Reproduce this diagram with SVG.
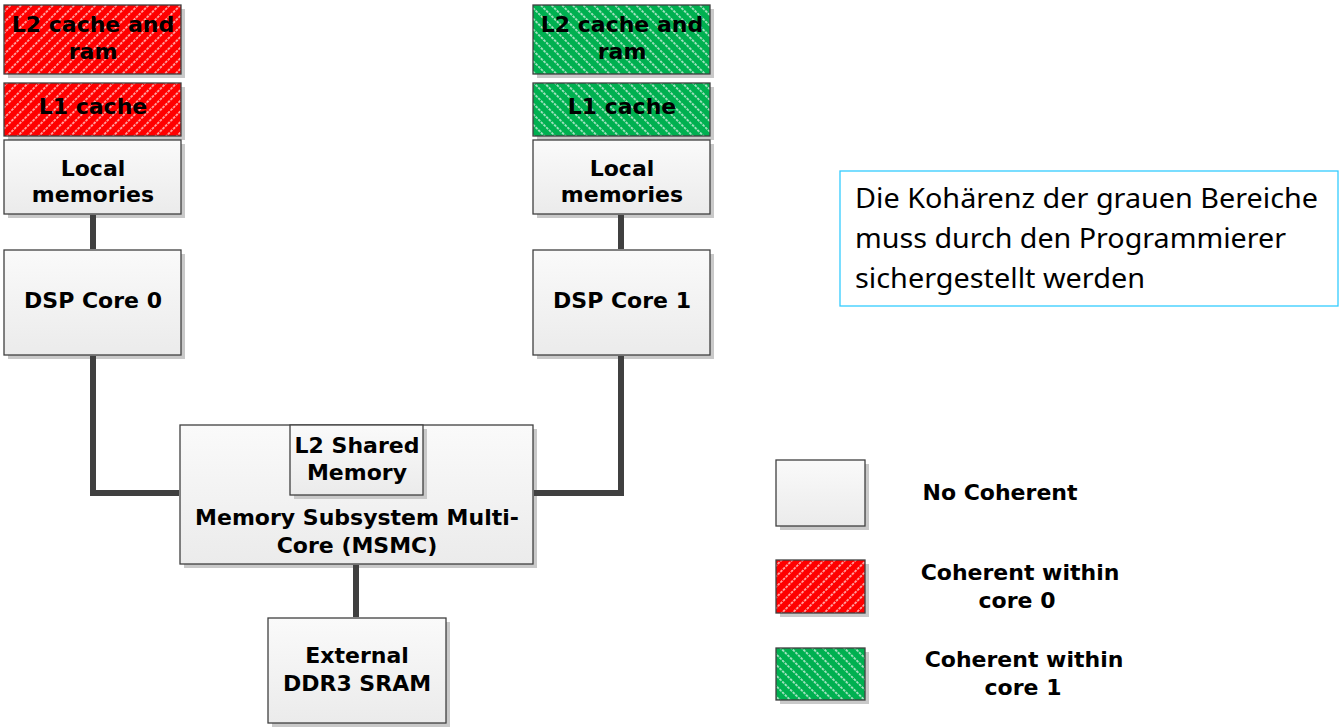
<svg xmlns="http://www.w3.org/2000/svg" width="1340" height="727" viewBox="0 0 1340 727">
<defs>
<linearGradient id="gfill" x1="0" y1="0" x2="0" y2="1">
<stop offset="0" stop-color="#fafafa"/>
<stop offset="1" stop-color="#ebebeb"/>
</linearGradient>
<pattern id="hred" patternUnits="userSpaceOnUse" width="7.5" height="7.5" patternTransform="rotate(45)">
<rect width="7.5" height="7.5" fill="#ff0000"/>
<line x1="3.75" y1="0" x2="3.75" y2="7.5" stroke="#ffffff" stroke-width="1.4" stroke-dasharray="2.5 1.25" opacity="0.85"/>
</pattern>
<pattern id="hgreen" patternUnits="userSpaceOnUse" width="7.5" height="7.5" patternTransform="rotate(-45)">
<rect width="7.5" height="7.5" fill="#00b050"/>
<line x1="3.75" y1="0" x2="3.75" y2="7.5" stroke="#ffffff" stroke-width="1.4" stroke-dasharray="2.5 1.25" opacity="0.85"/>
</pattern>
<style>
.sh{fill:#c9c9c9}
.box{fill:url(#gfill);stroke:#404040;stroke-width:1.3}
.red{fill:url(#hred);stroke:#404040;stroke-width:1.3}
.green{fill:url(#hgreen);stroke:#404040;stroke-width:1.3}
.t{font-family:"DejaVu Sans","Liberation Sans",sans-serif;font-weight:bold;font-size:22px;fill:#000;text-anchor:middle}
.note{font-family:"Noto Sans","Open Sans",sans-serif;font-size:28px;fill:#000}
.wire{fill:none;stroke:#404040;stroke-width:6;stroke-linejoin:miter}
</style>
</defs>
<rect width="1340" height="727" fill="#ffffff"/>

<g id="core0-l2">
<rect class="sh" x="8" y="9" width="177" height="69"/>
<rect class="red" x="4" y="5" width="177" height="69"/>
<text class="t" x="93" y="32">L2 cache and</text>
<text class="t" x="93" y="59">ram</text>
</g>
<g id="core0-l1">
<rect class="sh" x="8" y="87" width="177" height="53"/>
<rect class="red" x="4" y="83" width="177" height="53"/>
<text class="t" x="93" y="114">L1 cache</text>
</g>
<g id="core0-local">
<rect class="sh" x="8" y="144" width="177" height="74"/>
<rect class="box" x="4" y="140" width="177" height="74"/>
<text class="t" x="93" y="176">Local</text>
<text class="t" x="93" y="202">memories</text>
</g>
<g id="dsp0">
<rect class="sh" x="8" y="254" width="177" height="105"/>
<rect class="box" x="4" y="250" width="177" height="105"/>
<text class="t" x="93" y="308">DSP Core 0</text>
</g>

<g id="core1-l2">
<rect class="sh" x="537" y="9" width="177" height="69"/>
<rect class="green" x="533" y="5" width="177" height="69"/>
<text class="t" x="622" y="32">L2 cache and</text>
<text class="t" x="622" y="59">ram</text>
</g>
<g id="core1-l1">
<rect class="sh" x="537" y="87" width="177" height="53"/>
<rect class="green" x="533" y="83" width="177" height="53"/>
<text class="t" x="622" y="114">L1 cache</text>
</g>
<g id="core1-local">
<rect class="sh" x="537" y="144" width="177" height="74"/>
<rect class="box" x="533" y="140" width="177" height="74"/>
<text class="t" x="622" y="176">Local</text>
<text class="t" x="622" y="202">memories</text>
</g>
<g id="dsp1">
<rect class="sh" x="537" y="254" width="177" height="105"/>
<rect class="box" x="533" y="250" width="177" height="105"/>
<text class="t" x="622" y="308">DSP Core 1</text>
</g>

<g id="msmc">
<rect class="sh" x="184" y="429" width="353" height="139"/>
<rect class="box" x="180" y="425" width="353" height="139"/>
<text class="t" x="357" y="525">Memory Subsystem Multi-</text>
<text class="t" x="357" y="553">Core (MSMC)</text>
</g>
<g id="l2shared">
<rect class="sh" x="294" y="429" width="133" height="70"/>
<rect class="box" x="290" y="425" width="133" height="70"/>
<text class="t" x="357" y="453">L2 Shared</text>
<text class="t" x="357" y="480">Memory</text>
</g>

<g id="ddr3">
<rect class="sh" x="272" y="622" width="178" height="105"/>
<rect class="box" x="268" y="618" width="178" height="105"/>
<text class="t" x="357" y="663">External</text>
<text class="t" x="357" y="691">DDR3 SRAM</text>
</g>

<g id="connectors">
<line class="wire" x1="93" y1="215" x2="93" y2="249"/>
<line class="wire" x1="621" y1="215" x2="621" y2="249"/>
<polyline class="wire" points="93,356 93,493 179,493"/>
<polyline class="wire" points="621,356 621,493 534,493"/>
<line class="wire" x1="356" y1="565" x2="356" y2="617"/>
</g>

<g id="note">
<rect x="840" y="171" width="498" height="135" fill="#ffffff" stroke="#33ccff" stroke-width="1.3"/>
<text class="note" x="855" y="208" textLength="463" lengthAdjust="spacingAndGlyphs">Die Kohärenz der grauen Bereiche</text>
<text class="note" x="855" y="248" textLength="431" lengthAdjust="spacingAndGlyphs">muss durch den Programmierer</text>
<text class="note" x="855" y="288" textLength="290" lengthAdjust="spacingAndGlyphs">sichergestellt werden</text>
</g>

<g id="legend-none">
<rect class="sh" x="780" y="464" width="89" height="66"/>
<rect class="box" x="776" y="460" width="89" height="66"/>
<text class="t" x="1000" y="500">No Coherent</text>
</g>
<g id="legend-core0">
<rect class="sh" x="780" y="564" width="89" height="53"/>
<rect class="red" x="776" y="560" width="89" height="53"/>
<text class="t" x="1020" y="580">Coherent within</text>
<text class="t" x="1017" y="608">core 0</text>
</g>
<g id="legend-core1">
<rect class="sh" x="780" y="652" width="89" height="52"/>
<rect class="green" x="776" y="648" width="89" height="52"/>
<text class="t" x="1024" y="667">Coherent within</text>
<text class="t" x="1023" y="695">core 1</text>
</g>
</svg>
